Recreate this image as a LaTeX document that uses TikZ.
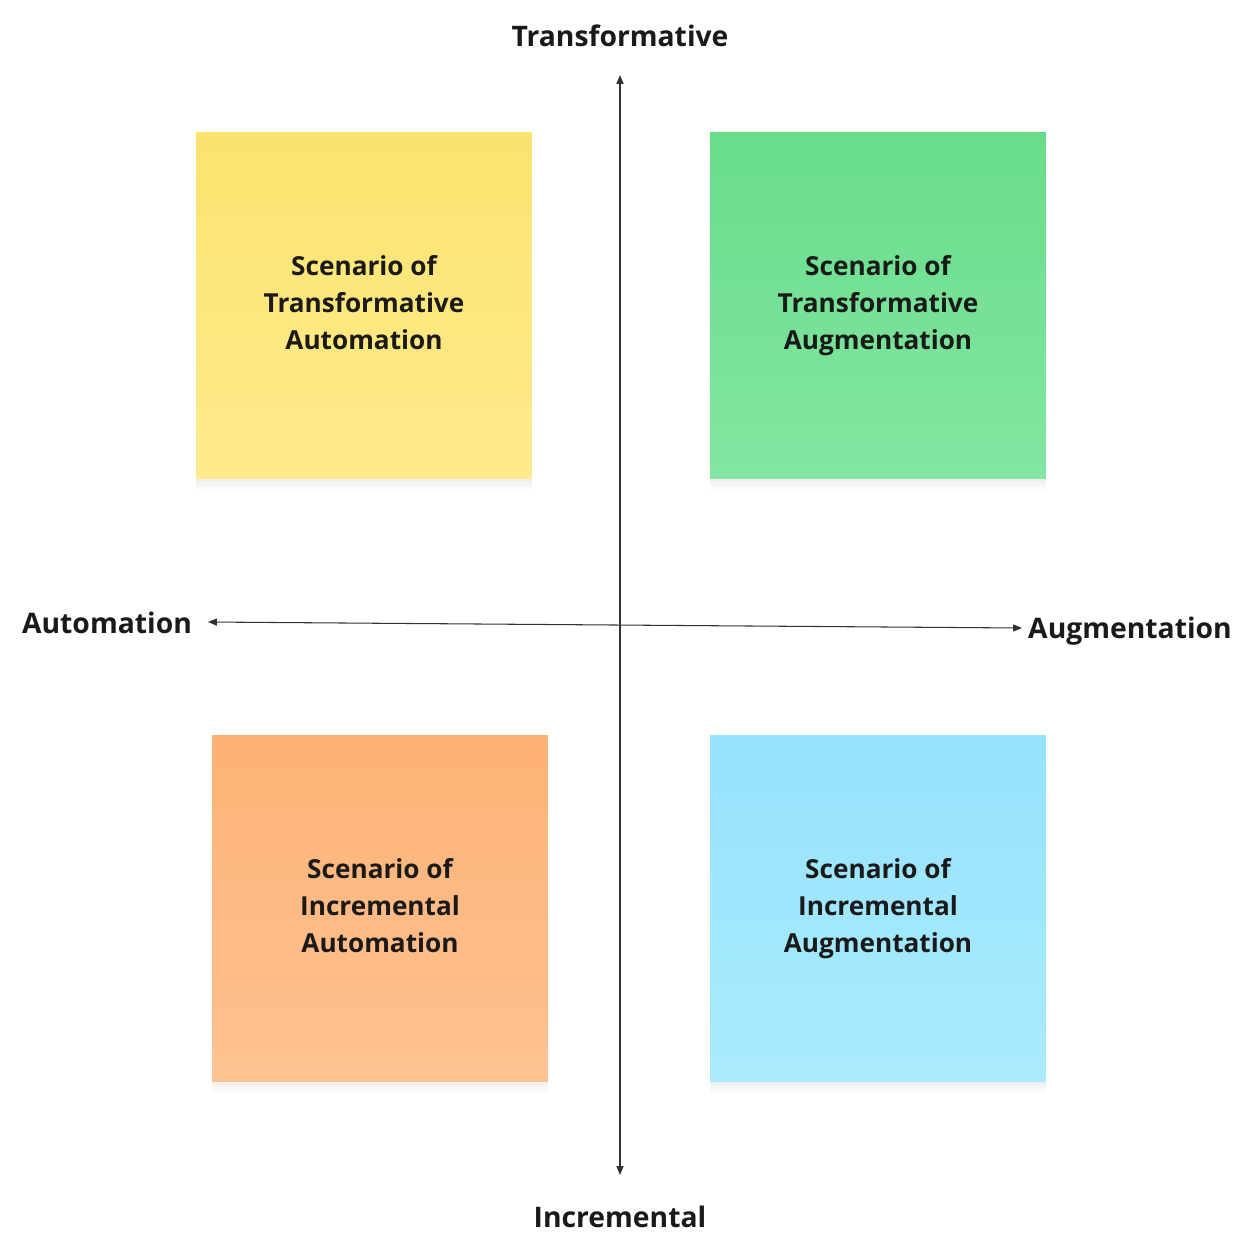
\documentclass[tikz,border=0pt]{standalone}
\usepackage{fontspec}
\setmainfont{Open Sans}
\usetikzlibrary{arrows.meta,shadows}
\definecolor{axiscol}{HTML}{333333}
\definecolor{txt}{HTML}{1A1A1A}
\definecolor{ytop}{HTML}{FCE36E}\definecolor{ybot}{HTML}{FEEA8C}
\definecolor{gtop}{HTML}{68DD89}\definecolor{gbot}{HTML}{82E6A2}
\definecolor{otop}{HTML}{FDB274}\definecolor{obot}{HTML}{FEC292}
\definecolor{btop}{HTML}{95E2FC}\definecolor{bbot}{HTML}{AAEBFD}
\newcommand{\mydepth}{\vphantom{g}}
\tikzset{
  note/.style={rectangle, minimum width=6.72cm, minimum height=6.94cm,
    inner sep=0pt, align=center, text=txt,
    font=\bfseries\fontsize{14.9}{21}\selectfont,
    drop shadow={shadow xshift=0pt, shadow yshift=-6pt, opacity=0.03},
    drop shadow={shadow xshift=0pt, shadow yshift=-4pt, opacity=0.04},
    drop shadow={shadow xshift=0pt, shadow yshift=-2pt, opacity=0.05}},
  axislabel/.style={text=txt, font=\bfseries\fontsize{16.1}{19}\selectfont, inner sep=0pt},
  axis/.style={draw=axiscol, line width=0.6pt, {Triangle[length=5pt,width=4pt]}-{Triangle[length=5pt,width=4pt]}}
}
\begin{document}
\begin{tikzpicture}[x=0.02cm,y=-0.02cm]
\useasboundingbox (0,0) rectangle (1254,1245);
\node[note, top color=ytop, bottom color=ybot] (ta) at (364,305.5) {Scenario of\\Transformative\\Automation\mydepth};
\node[note, top color=gtop, bottom color=gbot] (tg) at (878,305.5) {Scenario of\\Transformative\\Augmentation};
\node[note, top color=otop, bottom color=obot] (ia) at (380,908.5) {Scenario of\\Incremental\\Automation\mydepth};
\node[note, top color=btop, bottom color=bbot] (ig) at (878,908.5) {Scenario of\\Incremental\\Augmentation};
\node[axislabel] (top) at (620,36) {Transformative};
\node[axislabel] (bot) at (620,1217) {Incremental};
\node[axislabel] (left) at (107,623) {Automation};
\node[axislabel] (right) at (1130,631.5) {Augmentation};
\coordinate (vt) at (620,75);
\coordinate (vb) at (620,1175);
\coordinate (hl) at (208,622);
\coordinate (hr) at (1022,628);
\draw[axis] (vb) -- (vt);
\draw[axis] (hl) -- (hr);
\end{tikzpicture}
\end{document}
